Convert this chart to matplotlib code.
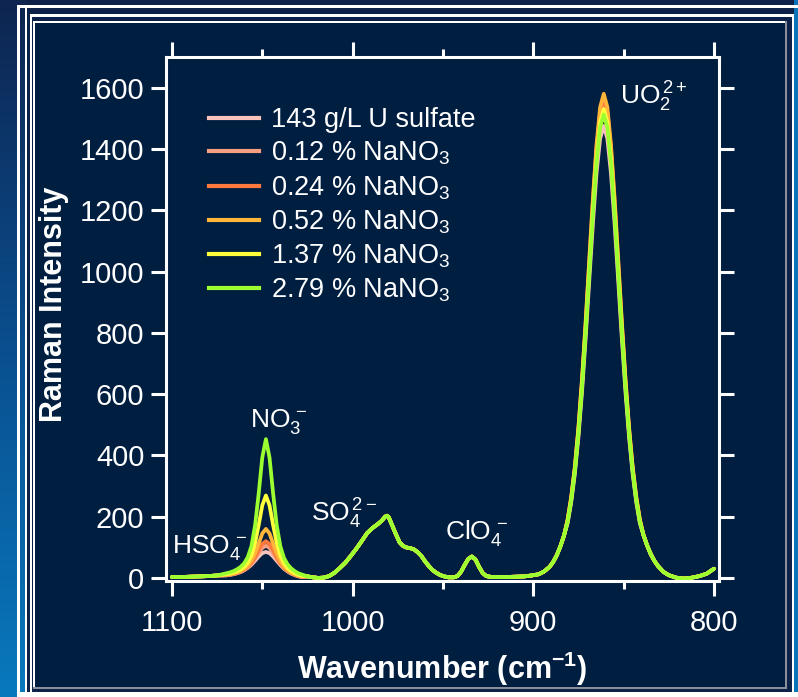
import numpy as np
import matplotlib
matplotlib.use("Agg")
import matplotlib.pyplot as plt
from matplotlib.patches import Rectangle
from matplotlib.lines import Line2D
from matplotlib.colors import LinearSegmentedColormap

plt.rcParams['font.family'] = ['Liberation Sans', 'DejaVu Sans']
plt.rcParams['mathtext.fontset'] = 'custom'
plt.rcParams['mathtext.rm'] = 'Liberation Sans'
plt.rcParams['mathtext.it'] = 'Liberation Sans:italic'
plt.rcParams['mathtext.bf'] = 'Liberation Sans:bold'

# ---------------- data ----------------
series_labels = ["143 g/L U sulfate", "0.12 % NaNO$_3$", "0.24 % NaNO$_3$",
                 "0.52 % NaNO$_3$", "1.37 % NaNO$_3$", "2.79 % NaNO$_3$"]
series_colors = ["#f9c3bc", "#f5a080", "#ff7a3c", "#ffb43a", "#ffff3c", "#9cff2f"]

# region shared by all spectra (1100 - 1072 cm-1)
left_wn = [1100, 1095, 1090, 1085, 1080, 1075]
left_int = [3, 3, 4, 5, 6, 8]

# nitrate / bisulfate region, per spectrum
nitrate_wn = [1070, 1068, 1066, 1064, 1062, 1060, 1058, 1056, 1054, 1052, 1050,
              1048, 1046, 1044, 1042, 1040, 1038, 1036, 1034, 1032, 1030, 1028]
nitrate_u_sulfate = [8, 10, 12, 15, 19, 25, 33, 43, 56, 70, 81, 85, 81, 70, 56, 42, 30, 21, 14, 9, 5, 3]
nitrate_012 = [9, 10, 13, 16, 20, 26, 35, 46, 62, 81, 98, 105, 98, 81, 62, 45, 32, 22, 15, 10, 6, 4]
nitrate_024 = [9, 11, 13, 16, 21, 27, 36, 49, 67, 90, 111, 120, 111, 90, 67, 48, 33, 23, 16, 10, 6, 4]
nitrate_052 = [10, 12, 14, 18, 22, 30, 40, 56, 80, 112, 145, 160, 145, 112, 80, 55, 37, 26, 17, 12, 7, 5]
nitrate_137 = [12, 14, 17, 21, 27, 36, 50, 74, 114, 172, 237, 269, 237, 172, 114, 73, 48, 32, 22, 15, 10, 7]
nitrate_279 = [15, 18, 22, 28, 36, 48, 68, 104, 171, 275, 393, 453, 393, 275, 171, 103, 65, 44, 31, 22, 15, 11]

# sulfate / perchlorate region shared by all spectra
mid_wn = [1025, 1022, 1019, 1016, 1013, 1010, 1007, 1004, 1001, 998, 995, 992, 989, 986,
          984, 982, 981, 980, 978, 976, 974, 972, 970, 968, 966, 964, 962, 960, 958, 956,
          954, 952, 950, 947, 944, 942, 940, 938, 936, 934, 932, 930, 928, 926, 923, 920,
          915, 910, 905, 901, 897, 894, 891, 889, 887, 885, 883]
mid_int = [5, 2, 0, 1, 6, 17, 33, 50, 72, 95, 120, 146, 163, 176,
           186, 200, 203, 198, 170, 142, 116, 104, 99, 97, 93, 84, 72, 55, 40, 27,
           18, 11, 6, 2, 2, 6, 20, 42, 62, 70, 60, 36, 16, 6, 3, 3,
           3, 4, 5, 8, 12, 21, 36, 52, 74, 103, 138]

# uranyl region, per spectrum
uo2_wn = [881, 879, 877, 875, 873, 871, 869, 867, 865, 863, 861,
          859, 857, 855, 853, 851, 849, 847, 845, 843, 841]
uo2_u_sulfate = [178, 247, 339, 460, 609, 783, 971, 1156, 1320, 1434, 1475,
                 1434, 1320, 1156, 971, 783, 609, 460, 339, 247, 178]
uo2_012 = [187, 259, 355, 482, 638, 820, 1017, 1211, 1383, 1502, 1545,
           1502, 1383, 1211, 1017, 820, 638, 482, 355, 259, 187]
uo2_024 = [189, 262, 360, 488, 646, 831, 1030, 1227, 1401, 1521, 1565,
           1521, 1401, 1227, 1030, 831, 646, 488, 360, 262, 189]
uo2_052 = [191, 265, 363, 493, 653, 839, 1040, 1239, 1414, 1536, 1580,
           1536, 1414, 1239, 1040, 839, 653, 493, 363, 265, 191]
uo2_137 = [185, 256, 352, 477, 632, 812, 1007, 1200, 1369, 1487, 1530,
           1487, 1369, 1200, 1007, 812, 632, 477, 352, 256, 185]
uo2_279 = [183, 253, 348, 472, 624, 803, 995, 1185, 1353, 1470, 1512,
           1470, 1353, 1185, 995, 803, 624, 472, 348, 253, 183]

# low-wavenumber tail shared by all spectra
right_wn = [839, 837, 835, 833, 831, 828, 825, 821, 817, 813, 808, 804, 800]
right_int = [140, 106, 78, 56, 39, 20, 9, 1, -2, 0, 6, 14, 30]

nitrate_sets = [nitrate_u_sulfate, nitrate_012, nitrate_024, nitrate_052, nitrate_137, nitrate_279]
uo2_sets = [uo2_u_sulfate, uo2_012, uo2_024, uo2_052, uo2_137, uo2_279]

x_ticks = [1100, 1000, 900, 800]
x_minor = [1050, 950, 850]
y_ticks = [0, 200, 400, 600, 800, 1000, 1200, 1400, 1600]

# ---------------- figure & background ----------------
W, H = 798, 697
fig = plt.figure(figsize=(W / 100, H / 100), dpi=100)
fig.patch.set_facecolor('#0d2249')

bg = fig.add_axes([0, 0, 1, 1], zorder=-10)
bg.set_xlim(0, W)
bg.set_ylim(H, 0)
bg.axis('off')
grad = np.linspace(0, 1, 256).reshape(-1, 1)
cmap = LinearSegmentedColormap.from_list('g', ['#0e2550', '#0a4f8f', '#0879bd'])
bg.imshow(grad, extent=[0, 27, H, 0], cmap=cmap, aspect='auto', zorder=0)


def rect(x0, y0, x1, y1, c, z=1):
    bg.add_patch(Rectangle((x0, y0), x1 - x0, y1 - y0, facecolor=c, edgecolor='none', zorder=z))


rect(794, 0, W, H, '#0a74b8')
rect(27, 8, 794, 692, '#0d2249')
rect(17, 5, W, 8, 'white', 3)
rect(17, 5, 20, H, 'white', 3)
rect(25, 8, 27, H, 'white', 3)
rect(30, 14, 794, 17, 'white', 3)
rect(30, 14, 32, 692, 'white', 3)
rect(792, 14, 794, 692, 'white', 3)
rect(20, 692, W, H, 'white', 3)
rect(33, 21, 787, 689, '#8a8f99', 2)
rect(33, 21, 785, 687, 'white', 2)
rect(35, 23, 785, 687, '#001e40', 2.5)

# ---------------- main axes ----------------
ax_l, ax_r, ax_t, ax_b = 166, 719, 57, 581
ax = fig.add_axes([ax_l / W, 1 - ax_b / H, (ax_r - ax_l) / W, (ax_b - ax_t) / H])
ax.set_facecolor('none')

for lab, col, nit, uo in zip(series_labels, series_colors, nitrate_sets, uo2_sets):
    wn = left_wn + nitrate_wn + mid_wn + uo2_wn + right_wn
    it = left_int + nit + mid_int + uo + right_int
    ax.plot(wn, it, color=col, lw=2.7, solid_capstyle='round', solid_joinstyle='round')

ax.set_xlim(1103.3, 797.2)
ax.set_ylim(-10, 1700)

for s in ax.spines.values():
    s.set_color('white')
    s.set_linewidth(2.2)

ax.set_xticks(x_ticks)
ax.set_xticks(x_minor, minor=True)
ax.set_yticks(y_ticks)
ax.tick_params(axis='both', which='major', direction='out', length=10.5, width=2.2,
               colors='white', labelsize=21, top=True, right=True)
ax.tick_params(axis='x', which='major', pad=9.5)
ax.tick_params(axis='y', which='major', pad=5)
ax.tick_params(axis='x', which='minor', direction='out', length=6, width=2.2,
               colors='white', top=True)
ax.set_xticklabels([str(v) for v in x_ticks])
ax.set_yticklabels([str(v) for v in y_ticks])

ax.set_xlabel(r"Wavenumber (cm$^{\mathbf{-1}}$)", color='white', fontsize=22,
              fontweight='bold')
ax.set_ylabel("Raman Intensity", color='white', fontsize=22, fontweight='bold')
ax.xaxis.set_label_coords(0.5, (ax_b - 650) / (ax_b - ax_t))
ax.yaxis.set_label_coords((69 - ax_l) / (ax_r - ax_l), (ax_b - 304) / (ax_b - ax_t))

# annotations
ann_kw = dict(color='white', fontsize=19, va='baseline', ha='left')
ax.text(1056.8, 493, r"NO$_3^{\,-}$", **ann_kw)
ax.text(1100, 80, r"HSO$_4^{\,-}$", **ann_kw)
ax.text(1023, 184, r"SO$_4^{\,2-}$", **ann_kw)
ax.text(949, 127, r"ClO$_4^{\,-}$", **ann_kw)
ax.text(852, 1544, r"UO$_2^{\,2+}$", **ann_kw)

handles = [Line2D([0], [0], color=c, lw=3) for c in series_colors]
leg = ax.legend(handles, series_labels, loc='upper left',
                bbox_to_anchor=((209 - ax_l) / (ax_r - ax_l), (ax_b - 107) / (ax_b - ax_t)),
                frameon=False, fontsize=19.5, handlelength=1.85, handletextpad=0.45,
                labelspacing=0.25, borderpad=0, borderaxespad=0)
for t in leg.get_texts():
    t.set_color('white')

fig.savefig('out.png', dpi=100, facecolor=fig.get_facecolor())
